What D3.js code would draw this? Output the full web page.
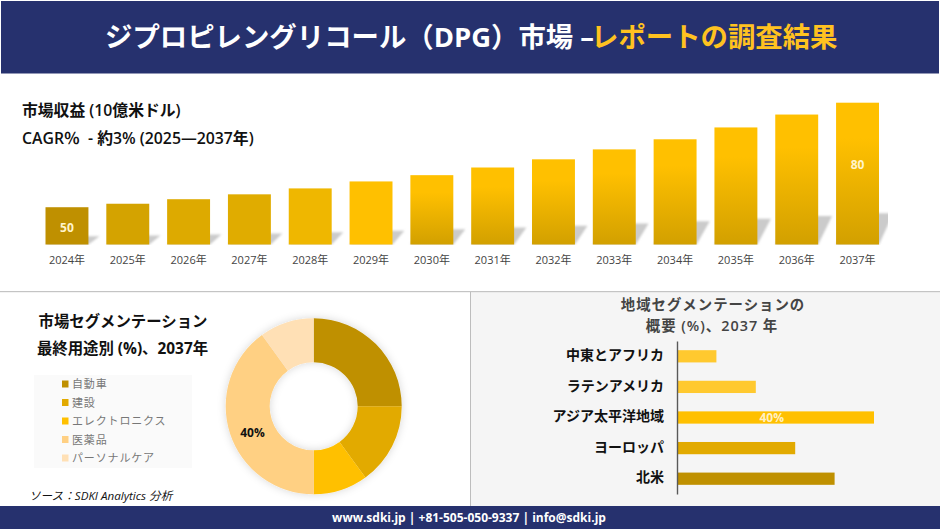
<!DOCTYPE html>
<html lang="ja">
<head>
<meta charset="utf-8">
<script src="https://cdnjs.cloudflare.com/ajax/libs/d3/7.8.5/d3.min.js"></script>
<style>
html,body{margin:0;padding:0;background:#fff;overflow:hidden}
svg{display:block}
text{font-family:"Open Sans","Noto Sans CJK JP",sans-serif}
</style>
</head>
<body>
<svg id="c" width="940" height="529"></svg>
<script>
const years = ["2024年","2025年","2026年","2027年","2028年","2029年","2030年","2031年","2032年","2033年","2034年","2035年","2036年","2037年"];
const revenue = [50,51,52.3,53.7,55.4,57.4,59.2,61.4,63.75,66.6,69.5,72.9,76.6,80];
const revenueLabels = {"2024年":"50","2037年":"80"};
const endUse = ["自動車","建設","エレクトロニクス","医薬品","パーソナルケア"];
const endUseShare = [25,15,10,40,10];
const endUseColors = ["#BF9000","#E2AA00","#FFC000","#FFD083","#FFE0B5"];
const regions = ["中東とアフリカ","ラテンアメリカ","アジア太平洋地域","ヨーロッパ","北米"];
const regionShare = [8,16,40,24,32];
const regionColors = ["#FFC92F","#FFC92F","#FFC000","#E2AA00","#BF9000"];
const solidBarColors = ["#BF9000","#D4A300","#DDAA00","#E0AC00","#EFB700","#FFC000"];

const svg = d3.select("#c");
const defs = svg.append("defs");
const navy = "#26316E";

// ---- gradients and filters
const grad = defs.append("linearGradient").attr("id","barGrad").attr("x1",0).attr("y1",0).attr("x2",0).attr("y2",1);
grad.append("stop").attr("offset","0%").attr("stop-color","#FFC000");
grad.append("stop").attr("offset","25%").attr("stop-color","#FFC000");
grad.append("stop").attr("offset","100%").attr("stop-color","#D2A000");
const blur = defs.append("filter").attr("id","soft").attr("x","-20%").attr("y","-20%").attr("width","140%").attr("height","140%");
blur.append("feGaussianBlur").attr("stdDeviation",1);
const ds = defs.append("filter").attr("id","donutShadow").attr("x","-20%").attr("y","-20%").attr("width","140%").attr("height","140%");
ds.append("feDropShadow").attr("dx",0).attr("dy",0).attr("stdDeviation",4).attr("flood-color","#000").attr("flood-opacity",0.16);
defs.append("clipPath").attr("id","shadowClip").append("rect").attr("x",0).attr("y",90).attr("width",888).attr("height",155);

// ---- page blocks
svg.append("rect").attr("width",940).attr("height",529).attr("fill","#fff");
svg.append("rect").attr("x",470).attr("y",292).attr("width",470).attr("height",214).attr("fill","#F5F5F5");
svg.append("rect").attr("x",0).attr("y",291).attr("width",940).attr("height",1.2).attr("fill","#C4C4C4");
svg.append("rect").attr("x",470).attr("y",292).attr("width",1).attr("height",214).attr("fill","#BDBDBD");
svg.append("rect").attr("x",1).attr("y",1).attr("width",938).attr("height",72.5).attr("fill",navy);
svg.append("rect").attr("x",0).attr("y",506).attr("width",940).attr("height",23).attr("fill",navy);

// ---- header
const title = svg.append("text").attr("x",105).attr("y",46.5).attr("font-size",27.4).attr("font-weight",700);
title.append("tspan").attr("fill","#fff").text("ジプロピレングリコール（DPG）市場 –");
title.append("tspan").attr("dx",-3).attr("fill","#FFC220").text("レポートの調査結果");

// ---- top bar chart
svg.append("text").attr("x",22).attr("y",115.5).attr("font-size",15.8).attr("font-weight",600).attr("fill","#111").text("市場収益 (10億米ドル)");
svg.append("text").attr("x",22).attr("y",143.5).attr("font-size",15.8).attr("font-weight",600).attr("fill","#111").text("CAGR％\u00A0 - 約3% (2025—2037年)");

const x = d3.scaleBand().domain(years).range([45.5,879]).paddingInner(0.294).paddingOuter(0);
const y = d3.scaleLinear().domain([39.3,80]).range([244.5,102.7]);
const rows = years.map((yr,i)=>({yr,v:revenue[i],i}));

svg.append("g").attr("clip-path","url(#shadowClip)").append("g").attr("filter","url(#soft)").selectAll("path").data(rows).join("path")
  .attr("fill","#CBCBCB")
  .attr("d",d=>{
    const barH=y.range()[0]-y(d.v), h=barH*0.22, l=x(d.yr), r=l+x.bandwidth(), b=y.range()[0], s=10+barH*0.03;
    return `M${l},${b}L${r},${b}L${r+s},${b-h}L${l+s},${b-h}Z`;
  });

svg.append("g").selectAll("rect").data(rows).join("rect")
  .attr("x",d=>x(d.yr)).attr("y",d=>y(d.v))
  .attr("width",x.bandwidth()).attr("height",d=>y.range()[0]-y(d.v))
  .attr("fill",d=>d.i<solidBarColors.length?solidBarColors[d.i]:"url(#barGrad)");

svg.append("g").selectAll("text").data(rows.filter(d=>revenueLabels[d.yr])).join("text")
  .attr("x",d=>x(d.yr)+x.bandwidth()/2)
  .attr("y",d=>d.i===0?231.5:169)
  .attr("text-anchor","middle").attr("font-size",12).attr("font-weight",700).attr("fill","#FFF4CC")
  .text(d=>revenueLabels[d.yr]);

const axisB = d3.axisBottom(x).tickSize(0).tickPadding(0);
const gx = svg.append("g").attr("transform","translate(0,256)").call(axisB);
gx.select(".domain").remove();
gx.selectAll("text").attr("font-size",11).attr("fill","#444").attr("dy","0.71em")
  .style("font-family",'"Open Sans","Noto Sans CJK JP",sans-serif');

// ---- donut
svg.append("text").attr("x",123).attr("y",326.5).attr("text-anchor","middle").attr("font-size",15.4).attr("font-weight",700).attr("fill","#111").text("市場セグメンテーション");
svg.append("text").attr("x",122.5).attr("y",353.5).attr("text-anchor","middle").attr("font-size",15.4).attr("font-weight",700).attr("fill","#111").text("最終用途別 (%)、2037年");

svg.append("rect").attr("x",34).attr("y",375).attr("width",158).attr("height",93).attr("fill","#FAFAFA");
const lg = svg.append("g").selectAll("g").data(endUse).join("g")
  .attr("transform",(d,i)=>`translate(62,${384+i*18.5})`);
lg.append("rect").attr("x",0).attr("y",-3.5).attr("width",6.5).attr("height",7).attr("fill",(d,i)=>endUseColors[i]);
lg.append("text").attr("x",10).attr("y",4).attr("font-size",11).attr("letter-spacing",0.85).attr("fill","#777").text(d=>d);

const pie = d3.pie().sort(null)(endUseShare);
const arc = d3.arc().innerRadius(44).outerRadius(88);
const donut = svg.append("g").attr("transform","translate(313.7,406.3)").attr("filter","url(#donutShadow)");
donut.selectAll("path").data(pie).join("path").attr("d",arc).attr("fill",(d,i)=>endUseColors[i]);
svg.append("text").attr("x",252.5).attr("y",437).attr("text-anchor","middle").attr("font-size",12).attr("font-weight",700).attr("fill","#111").text("40%");

svg.append("text").attr("x",29).attr("y",500).attr("font-size",11.6).attr("font-style","italic").attr("fill","#111").text("ソース：SDKI Analytics 分析");

// ---- region bars
svg.append("text").attr("x",713).attr("y",310).attr("text-anchor","middle").attr("font-size",14.4).attr("letter-spacing",1).attr("font-weight",600).attr("fill","#444").text("地域セグメンテーションの");
svg.append("text").attr("x",712).attr("y",331).attr("text-anchor","middle").attr("font-size",14.4).attr("letter-spacing",1).attr("font-weight",600).attr("fill","#444").text("概要 (%)、2037 年");

const rx = d3.scaleLinear().domain([0,40]).range([677,874]);
const ry = d3.scaleBand().domain(regions).range([341,494]).paddingInner(0.6).paddingOuter(0.3);
svg.append("g").selectAll("rect").data(regions).join("rect")
  .attr("x",rx(0)).attr("y",d=>ry(d)).attr("height",ry.bandwidth())
  .attr("width",(d,i)=>rx(regionShare[i])-rx(0))
  .attr("fill",(d,i)=>regionColors[i]);
const axisL = d3.axisLeft(ry).tickSize(0).tickPadding(13);
const gy = svg.append("g").attr("transform",`translate(${rx(0)},0)`).call(axisL);
gy.select(".domain").attr("stroke","#595959").attr("stroke-width",1.4);
gy.selectAll("text").attr("font-size",14).attr("font-weight",600).attr("fill","#111").attr("dy","0.27em")
  .style("font-family",'"Open Sans","Noto Sans CJK JP",sans-serif');
svg.append("text").attr("x",771.7).attr("y",421.5).attr("text-anchor","middle").attr("font-size",12).attr("font-weight",700).attr("fill","#FFF0C4").text("40%");

// ---- footer
svg.append("text").attr("x",469).attr("y",522).attr("text-anchor","middle").attr("font-size",12).attr("font-weight",700).attr("fill","#fff").text("www.sdki.jp | +81-505-050-9337 | info@sdki.jp");
</script>
</body>
</html>
